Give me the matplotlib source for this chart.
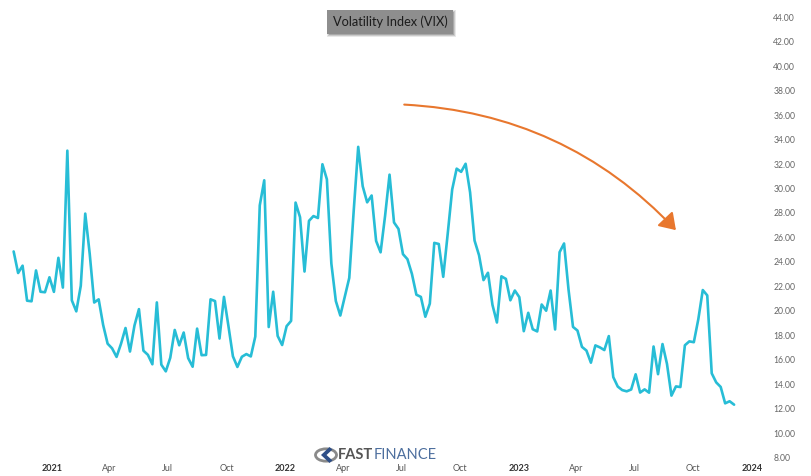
import matplotlib
matplotlib.use("Agg")
import matplotlib.pyplot as plt
import matplotlib.dates as mdates
import matplotlib.transforms as mtransforms
from matplotlib import font_manager
from matplotlib.patches import Circle, Polygon
import pandas as pd

# Weekly VIX closes, first week starting 2020-11-02 (bars dated Monday)
first_week = "2020-11-02"
vix_2020 = [24.86, 23.10, 23.70, 20.84, 20.79, 23.31, 21.57, 21.53, 22.75]
vix_2021 = [21.56, 24.34, 21.91, 33.09, 20.87, 19.97, 22.05, 27.95, 24.66, 20.69,
            20.95, 18.86, 17.33, 16.95, 16.25, 17.33, 18.61, 16.69, 18.81, 20.15,
            16.76, 16.42, 15.65, 20.70, 15.62, 15.07, 16.18, 18.45, 17.20, 18.24,
            16.15, 15.45, 18.56, 16.39, 16.41, 20.95, 20.81, 17.75, 21.15, 18.77,
            16.30, 15.43, 16.26, 16.48, 16.29, 17.91, 28.62, 30.67, 18.69, 21.57,
            17.96, 17.22]
vix_2022 = [18.76, 19.19, 28.85, 27.66, 23.22, 27.36, 27.75, 27.59, 31.98, 30.75,
            23.87, 20.81, 19.63, 21.16, 22.70, 28.21, 33.40, 30.19, 28.87, 29.43,
            25.72, 24.79, 27.75, 31.13, 27.23, 26.70, 24.64, 24.23, 23.03, 21.33,
            21.15, 19.53, 20.60, 25.56, 25.47, 22.79, 26.30, 29.92, 31.62, 31.36,
            32.02, 29.69, 25.75, 24.55, 22.52, 23.12, 20.50, 19.06, 22.83, 22.62,
            20.87, 21.67]
vix_2023 = [21.13, 18.35, 19.85, 18.51, 18.33, 20.53, 20.02, 21.67, 18.49, 24.80,
            25.51, 21.74, 18.70, 18.40, 17.07, 16.77, 15.78, 17.19, 17.03, 16.81,
            17.95, 14.60, 13.83, 13.54, 13.44, 13.59, 14.83, 13.34, 13.60, 13.33,
            17.10, 14.84, 17.30, 15.68, 13.09, 13.84, 13.79, 17.20, 17.52, 17.45,
            19.32, 21.71, 21.27, 14.91, 14.17, 13.80, 12.46, 12.63, 12.35]

tick_dates = ["2021-01-01", "2021-04-01", "2021-07-01", "2021-10-01",
              "2022-01-01", "2022-04-01", "2022-07-01", "2022-10-01",
              "2023-01-01", "2023-04-01", "2023-07-01", "2023-10-01",
              "2024-01-01"]
tick_labels = ["2021", "Apr", "Jul", "Oct", "2022", "Apr", "Jul", "Oct",
               "2023", "Apr", "Jul", "Oct", "2024"]
y_ticks = list(range(8, 46, 2))

title_text = "Volatility Index (VIX)"
brand_bold = "FAST"
brand_light = "FINANCE"

# Trend arrow endpoints (date, value)
arrow_start = ("2022-07-06", 36.85)
arrow_end = ("2023-09-04", 26.6)

vix = vix_2020 + vix_2021 + vix_2022 + vix_2023
weeks = pd.date_range(first_week, periods=len(vix), freq="W-MON")

LINE = "#27bdd6"
ORANGE = "#e8772e"
FONT = ["Lato", "DejaVu Sans"]


def pick_family(candidates, fallback):
    for name in candidates:
        try:
            font_manager.findfont(name, fallback_to_default=False)
            return [name, "DejaVu Sans"]
        except Exception:
            pass
    return fallback


BRAND_FONT = pick_family(["Liberation Sans Narrow"], FONT)
brand_size = 11.5 if BRAND_FONT[0] == "Liberation Sans Narrow" else 10.5

W, H = 811, 476
fig = plt.figure(figsize=(W / 100, H / 100), dpi=100)
ax = fig.add_axes([0, 14 / H, 760 / W, 462 / H])

ax.plot(weeks, vix, color=LINE, lw=1.9, solid_joinstyle="round",
        solid_capstyle="round")

# scale: 2021-01-01 at 52 px, 2024-01-01 at 752 px
d0 = mdates.date2num(pd.Timestamp("2021-01-01"))
d1 = mdates.date2num(pd.Timestamp("2024-01-01"))
ppd = 700.0 / (d1 - d0)
ax.set_xlim(d0 - 52 / ppd, d1 + 8 / ppd)
ax.set_ylim(7.67, 45.39)

for s in ax.spines.values():
    s.set_visible(False)

ax.set_xticks([mdates.date2num(pd.Timestamp(d)) for d in tick_dates])
ax.set_xticklabels(tick_labels)
ax.tick_params(axis="x", length=0, pad=1.5, labelsize=6.5, labelcolor="#555555")
for lab in ax.get_xticklabels():
    lab.set_family(FONT)
    if lab.get_text().isdigit():
        lab.set_fontweight("bold")
        lab.set_color("#333333")

ax.yaxis.tick_right()
ax.set_yticks(y_ticks)
ax.set_yticklabels([f"{v:.2f}" for v in y_ticks])
ax.tick_params(axis="y", length=0, pad=9.5, labelsize=6.2, labelcolor="#666666")
for lab in ax.get_yticklabels():
    lab.set_family(FONT)
    lab.set_horizontalalignment("left")

# title badge with a soft shadow
shadow_tr = mtransforms.offset_copy(fig.transFigure, fig, x=1.5, y=-1.5, units="dots")
for k, a in enumerate([0.12, 0.18, 0.25]):
    fig.text(390 / W, 1 - 22 / H, title_text, transform=shadow_tr,
             ha="center", va="center", fontsize=9.2, family=FONT, color="none",
             bbox=dict(boxstyle="square,pad=%.2f" % (0.42 + 0.08 * (2 - k)),
                       fc="#444444", ec="none", alpha=a))
fig.text(390 / W, 1 - 22 / H, title_text, ha="center", va="center",
         fontsize=9.2, family=FONT, color="#1c1c1c",
         bbox=dict(boxstyle="square,pad=0.42", fc="#8e8e8e", ec="none"))

# trend arrow
ax.annotate("", xy=(mdates.date2num(pd.Timestamp(arrow_end[0])), arrow_end[1]),
            xytext=(mdates.date2num(pd.Timestamp(arrow_start[0])), arrow_start[1]),
            arrowprops=dict(arrowstyle="-|>,head_length=0.6,head_width=0.4",
                            color=ORANGE, lw=1.5, mutation_scale=16,
                            connectionstyle="arc3,rad=-0.2",
                            shrinkA=0, shrinkB=0))

# brand mark
cx, cy = 326, 455
circ = Circle((cx / W, 1 - cy / H), 10.5 / W, transform=fig.transFigure,
              fc="white", ec="#8a8a8a", lw=2.0)
fig.patches.append(circ)
chev_px = [(3.5, -8), (6.5, -5.5), (0.5, 0), (6.5, 5.5), (3.5, 8), (-5, 0)]
chev = Polygon([((cx + dx) / W, 1 - (cy + dy) / H) for dx, dy in chev_px],
               closed=True, transform=fig.transFigure, fc="#2f4f87", ec="none")
fig.patches.append(chev)
t1 = fig.text(338 / W, 1 - 455 / H, brand_bold, ha="left", va="center",
              fontsize=brand_size, fontweight="bold", family=BRAND_FONT,
              color="#555555")
fig.canvas.draw()
bb = t1.get_window_extent()
fig.text(bb.x1 / W, 1 - 455 / H, brand_light, ha="left", va="center",
         fontsize=brand_size, family=BRAND_FONT, color="#4d6f9e")

fig.savefig("out.png", dpi=100)
